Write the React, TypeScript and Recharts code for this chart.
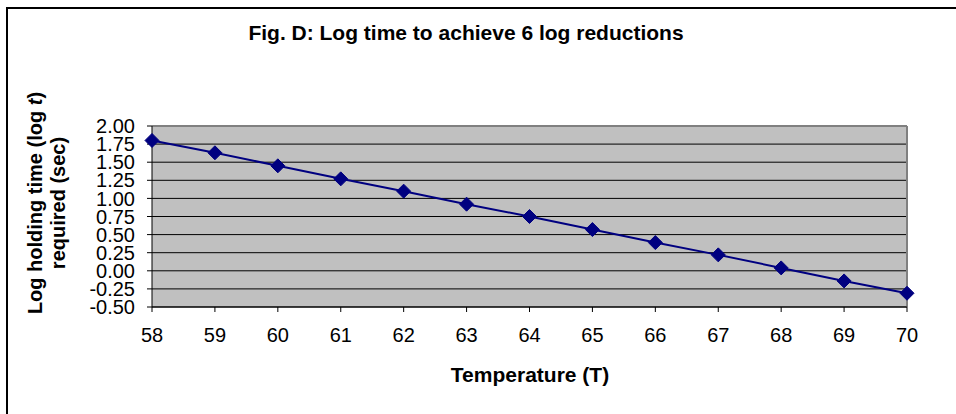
import { LineChart, Line, XAxis, YAxis, CartesianGrid, ReferenceLine } from 'recharts'

const temps = [58, 59, 60, 61, 62, 63, 64, 65, 66, 67, 68, 69, 70]
const logTimes = [1.8, 1.63, 1.45, 1.27, 1.1, 0.92, 0.75, 0.57, 0.39, 0.22, 0.04, -0.14, -0.31]
const yTicks = [-0.5, -0.25, 0, 0.25, 0.5, 0.75, 1, 1.25, 1.5, 1.75, 2]

const data = temps.map((t, i) => ({ temp: t, logt: logTimes[i] }))

const font = '"Liberation Sans", Arial, sans-serif'

function Diamond(props: any) {
  const { cx, cy } = props
  if (cx == null || cy == null) return null
  const r = 7
  return (
    <polygon
      points={`${cx},${cy - r} ${cx + r},${cy} ${cx},${cy + r} ${cx - r},${cy}`}
      fill="#000080"
      stroke="#000080"
    />
  )
}

export default function App() {
  return (
    <div
      style={{
        position: 'absolute',
        left: 0,
        top: 0,
        width: 956,
        height: 414,
        overflow: 'hidden',
        background: '#fff',
        fontFamily: font
      }}
    >
      <div
        style={{
          position: 'absolute',
          left: 6,
          top: 7,
          width: 1000,
          height: 1000,
          border: '2px solid #000'
        }}
      />
      <div
        style={{
          position: 'absolute',
          left: 0,
          width: 932,
          top: 21,
          textAlign: 'center',
          fontWeight: 'bold',
          fontSize: 21
        }}
      >
        Fig. D: Log time to achieve 6 log reductions
      </div>
      <div
        style={{
          position: 'absolute',
          left: 330,
          width: 400,
          top: 363,
          textAlign: 'center',
          fontWeight: 'bold',
          fontSize: 21
        }}
      >
        Temperature (T)
      </div>
      <div
        style={{
          position: 'absolute',
          left: 48 - 150,
          top: 203 - 24,
          width: 300,
          height: 48,
          transform: 'rotate(-90deg)',
          textAlign: 'center',
          fontWeight: 'bold',
          fontSize: 20,
          lineHeight: '23px'
        }}
      >
        Log holding time (log <i>t</i>)
        <br />
        required (sec)
      </div>
      <div style={{ position: 'absolute', left: 0, top: 0 }}>
        <LineChart
          width={956}
          height={414}
          data={data}
          margin={{ top: 126, right: 49, bottom: 77, left: 0 }}
        >
          <CartesianGrid vertical={false} stroke="#000" fill="#C0C0C0" fillOpacity={1} />
          <ReferenceLine y={2} stroke="#808080" strokeWidth={2} />
          <ReferenceLine x={70} stroke="#808080" strokeWidth={2} />
          <XAxis
            dataKey="temp"
            height={30}
            stroke="#000"
            tickSize={5}
            tickMargin={16}
            tick={{ fill: '#000', fontSize: 20, fontFamily: font }}
            interval={0}
          />
          <YAxis
            width={152}
            domain={[-0.5, 2]}
            ticks={yTicks}
            stroke="#000"
            tickSize={5}
            tickMargin={12}
            tickFormatter={(v: number) => v.toFixed(2)}
            tick={{ fill: '#000', fontSize: 20, fontFamily: font }}
            interval={0}
          />
          <Line
            type="linear"
            dataKey="logt"
            stroke="#000080"
            strokeWidth={2}
            dot={<Diamond />}
            activeDot={false}
            isAnimationActive={false}
          />
        </LineChart>
      </div>
    </div>
  )
}
